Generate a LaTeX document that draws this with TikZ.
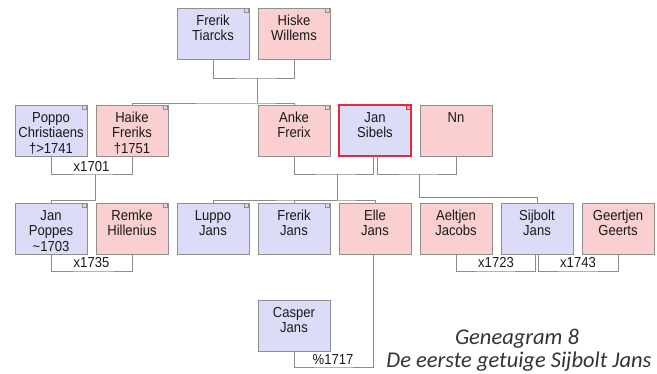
\documentclass[tikz,border=0pt]{standalone}
\usepackage{fontspec}
\setmainfont{Liberation Sans}[FakeStretch=0.9]
\newfontfamily\capfont{Carlito}
\definecolor{manfill}{HTML}{DCDCF8}
\definecolor{womanfill}{HTML}{F9CFCF}
\definecolor{boxline}{HTML}{8F8F8F}
\definecolor{linkline}{HTML}{8C8C8C}
\definecolor{selline}{HTML}{E8283A}
\newcommand{\who}[1]{\parbox[c][51pt][t]{72pt}{\fontsize{14.5}{15.5}\selectfont\centering\rule{0pt}{17pt}#1}}
\begin{document}
\begin{tikzpicture}[x=1pt, y=-1pt,
	person/.style={rectangle, draw=boxline, line width=0.7pt, inner sep=0, outer sep=0, text=black!90},
	man/.style={person, fill=manfill},
	woman/.style={person, fill=womanfill},
	tagged/.style={path picture={\filldraw[draw=#1, fill=#1!35, line width=0.5pt] (path picture bounding box.north east) ++(-0.5pt,-0.5pt) rectangle ++(-4pt,-4pt);}},
	tagged/.default=boxline,
	link/.style={draw=linkline, line width=0.8pt},
	wed/.style={anchor=base, inner sep=0, text=black!90, font=\fontsize{14.5}{15}\selectfont},
	caption/.style={anchor=base, inner sep=0, text=black!80, font=\capfont\itshape\fontsize{22.5}{24}\selectfont}]
	
		\useasboundingbox (0,0) rectangle (657,373);
		
		\node (FT) at (213,33.5) [man,tagged] {\who{Frerik\\Tiarcks}};
		\node (HW) at (294,33.5) [woman,tagged] {\who{Hiske\\Willems}};
		
		\node (PC) at (51,130.5) [man,tagged] {\who{Poppo\\Christiaens\\†>1741}};
		\node (HF) at (132,130.5) [woman,tagged] {\who{Haike\\Freriks\\†1751}};
		\node (AF) at (294,130.5) [woman,tagged] {\who{Anke\\Frerix}};
		\node (JS) at (375,130.5) [man,draw=selline,line width=1.1pt,tagged=selline] {\who{Jan\\Sibels}};
		\node (NN) at (456,130.5) [woman] {\who{Nn}};
		
		\node (JP) at (51,228.5) [man,tagged] {\who{Jan\\Poppes\\\textasciitilde1703}};
		\node (RH) at (132,228.5) [woman,tagged] {\who{Remke\\Hillenius}};
		\node (LJ) at (213,228.5) [man,tagged] {\who{Luppo\\Jans}};
		\node (FJ) at (294,228.5) [man,tagged] {\who{Frerik\\Jans}};
		\node (EJ) at (375,228.5) [woman] {\who{Elle\\Jans}};
		\node (AJ) at (456,228.5) [woman] {\who{Aeltjen\\Jacobs}};
		\node (SJ) at (537,228.5) [man] {\who{Sijbolt\\Jans}};
		\node (GG) at (618,228.5) [woman] {\who{Geertjen\\Geerts}};
		
		\node (CJ) at (294,325.5) [man] {\who{Casper\\Jans}};
		
		\coordinate (m1) at (257,78);
		\coordinate (c1) at (257,103);
		\draw[link] (FT) |- (m1) -| (HW);
		\draw[link] (m1) -- (c1);
		\draw[link] (HF) |- (c1) -| (AF);
		
		\coordinate (m2) at (95,174);
		\coordinate (c2) at (95,200);
		\draw[link] (PC) |- (m2) -| (HF);
		\draw[link] (m2) -- (c2) -| (JP);
		\node (w1) at (91.5,171) [wed] {x1701};
		
		\coordinate (m3) at (337,174);
		\coordinate (c3) at (337,200);
		\draw[link] (AF) |- (m3) -| ([xshift=-2pt]JS.south);
		\draw[link] (m3) -- (c3);
		\draw[link] (LJ) |- (c3) -| (EJ);
		\draw[link] (FJ) |- (c3);
		
		\coordinate (m4) at (419,174);
		\coordinate (c4) at (419,197);
		\draw[link] ([xshift=2pt]JS.south) |- (m4) -| (NN);
		\draw[link] (m4) -- (c4) -| (SJ);
		
		\coordinate (m5) at (95,271);
		\draw[link] (JP) |- (m5) -| (RH);
		\node (w2) at (91.5,267) [wed] {x1735};
		
		\coordinate (m6) at (496,271);
		\draw[link] (AJ) |- (m6) -| ([xshift=-1.5pt]SJ.south);
		\node (w3) at (496,267) [wed] {x1723};
		
		\coordinate (m7) at (578,271);
		\draw[link] ([xshift=1.5pt]SJ.south) |- (m7) -| (GG);
		\node (w4) at (578,267) [wed] {x1743};
		
		\coordinate (m8) at (333,367);
		\draw[link] ([xshift=-2pt]EJ.south) |- (m8) -| (CJ);
		\node (w5) at (333,364) [wed] {\%1717};
		
		\node (cap1) at (517,344) [caption] {Geneagram 8};
		\node (cap2) at (519,367) [caption] {De eerste getuige Sijbolt Jans};
	\end{tikzpicture}
\end{document}
